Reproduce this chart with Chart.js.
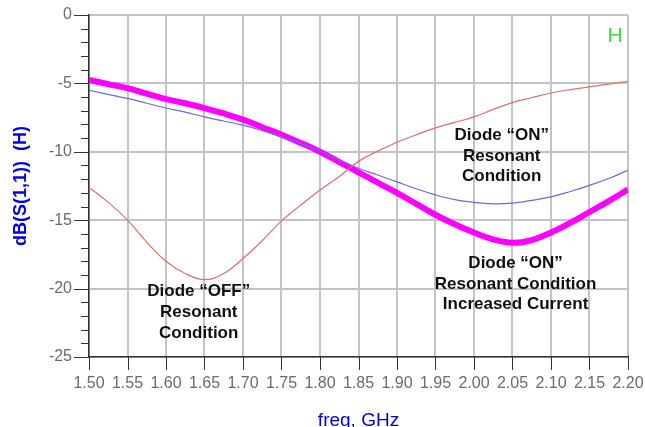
<!DOCTYPE html>
<html>
<head>
<meta charset="utf-8">
<script src="https://cdn.jsdelivr.net/npm/chart.js@4.4.1/dist/chart.umd.min.js"></script>
<style>
  html, body { margin: 0; padding: 0; background: #fff; }
  #wrap { width: 645px; height: 427px; }
</style>
</head>
<body>
<div id="wrap"><canvas id="s11Chart" width="645" height="427"></canvas></div>
<script>
// Data (freq in GHz, dB(S(1,1)))
const freqs = [1.50, 1.525, 1.55, 1.575, 1.60, 1.625, 1.65, 1.675, 1.70, 1.725, 1.75, 1.775, 1.80, 1.825, 1.85,
               1.875, 1.90, 1.925, 1.95, 1.975, 2.00, 2.025, 2.05, 2.075, 2.10, 2.125, 2.15, 2.175, 2.20];
const diodeOff = [-12.6, -13.7, -15.0, -16.6, -18.0, -18.9, -19.35, -18.9, -17.8, -16.5, -15.05, -13.9, -12.8, -11.8, -10.7,
                  -9.95, -9.3, -8.75, -8.25, -7.85, -7.45, -6.9, -6.4, -6.05, -5.7, -5.45, -5.25, -5.05, -4.85];
const diodeOn = [-5.5, -5.8, -6.1, -6.45, -6.8, -7.1, -7.45, -7.75, -8.05, -8.45, -8.9, -9.4, -9.95, -10.6, -11.2,
                 -11.7, -12.2, -12.7, -13.15, -13.5, -13.7, -13.8, -13.75, -13.55, -13.3, -12.9, -12.45, -11.95, -11.35];
const diodeOnHigh = [-4.75, -5.05, -5.35, -5.75, -6.15, -6.45, -6.8, -7.2, -7.65, -8.2, -8.75, -9.35, -10.0, -10.75, -11.5,
                     -12.25, -13.0, -13.8, -14.6, -15.3, -15.9, -16.4, -16.65, -16.45, -15.9, -15.2, -14.4, -13.6, -12.75];

const xTicks = [1.50, 1.55, 1.60, 1.65, 1.70, 1.75, 1.80, 1.85, 1.90, 1.95, 2.00, 2.05, 2.10, 2.15, 2.20];
const yTicks = [-25, -20, -15, -10, -5, 0];

// annotation text, anchored in data coordinates (first line baseline)
const notes = [
    { f: 1.6425, db: -20.55, lines: ['Diode \u201cOFF\u201d', 'Resonant', 'Condition'] },
    { f: 2.036, db: -9.14, lines: ['Diode \u201cON\u201d', 'Resonant', 'Condition'] },
    { f: 2.054, db: -18.5, lines: ['Diode \u201cON\u201d', 'Resonant Condition', 'Increased Current'] }
];

const FONT = "'Liberation Sans', Arial, sans-serif";

function pts(ys) {
    return freqs.map((f, i) => ({ x: f, y: ys[i] }));
}

// axis ticks, titles and notes
const decorations = {
    id: 'decorations',
    afterDraw(chart) {
        const { ctx, scales: { x, y }, chartArea } = chart;
        ctx.save();
        ctx.strokeStyle = '#333';
        ctx.lineWidth = 1;
        ctx.beginPath();
        for (let v = -25; v <= 0; v++) {
            const py = Math.round(y.getPixelForValue(v)) + 0.5;
            const len = v % 5 === 0 ? 15 : 8;
            ctx.moveTo(chartArea.left - len, py);
            ctx.lineTo(chartArea.left, py);
        }
        xTicks.forEach(v => {
            const px = Math.round(x.getPixelForValue(v)) + 0.5;
            ctx.moveTo(px, chartArea.bottom);
            ctx.lineTo(px, chartArea.bottom + 13);
        });
        ctx.stroke();

        // axis titles
        ctx.fillStyle = '#0000ee';
        ctx.textAlign = 'center';
        ctx.textBaseline = 'alphabetic';
        ctx.font = '19px ' + FONT;
        ctx.fillText('freq, GHz', (chartArea.left + chartArea.right) / 2, 426);

        ctx.save();
        ctx.translate(26, (chartArea.top + chartArea.bottom) / 2);
        ctx.rotate(-Math.PI / 2);
        ctx.font = 'bold 18px ' + FONT;
        ctx.fillText('dB(S(1,1))  (H)', 0, 0);
        ctx.restore();

        // corner marker
        ctx.fillStyle = '#3edc3e';
        ctx.font = '21px ' + FONT;
        ctx.textAlign = 'center';
        ctx.fillText('H', 615, 42);

        // notes
        ctx.fillStyle = '#111';
        ctx.font = 'bold 17px ' + FONT;
        notes.forEach(n => {
            const cx = x.getPixelForValue(n.f);
            const by = y.getPixelForValue(n.db);
            n.lines.forEach((t, i) => ctx.fillText(t, cx, by + i * 20.7));
        });
        ctx.restore();
    }
};

new Chart(document.getElementById('s11Chart').getContext('2d'), {
    type: 'line',
    data: {
        datasets: [
            {
                label: 'Diode OFF',
                data: pts(diodeOff),
                borderColor: '#d9726e',
                borderWidth: 1.2,
                pointRadius: 0,
                tension: 0.4,
                order: 1
            },
            {
                label: 'Diode ON',
                data: pts(diodeOn),
                borderColor: '#6a6ae2',
                borderWidth: 1.2,
                pointRadius: 0,
                tension: 0.4,
                order: 2
            },
            {
                label: 'Diode ON, increased current',
                data: pts(diodeOnHigh),
                borderColor: '#ff00ff',
                borderWidth: 6,
                pointRadius: 0,
                tension: 0.4,
                order: 3
            }
        ]
    },
    options: {
        responsive: false,
        animation: false,
        layout: { padding: { top: 15, right: 17, left: 0, bottom: 0 } },
        plugins: {
            legend: { display: false },
            tooltip: { enabled: false }
        },
        scales: {
            x: {
                type: 'linear',
                min: 1.5,
                max: 2.2,
                afterBuildTicks: s => { s.ticks = xTicks.map(v => ({ value: v })); },
                afterFit: s => { s.height = 70; s.paddingLeft = 0; s.paddingRight = 0; },
                grid: { color: '#c4c4c4', lineWidth: 2, drawTicks: false },
                border: { color: '#333', width: 1.5 },
                ticks: {
                    color: '#6b6b6b',
                    font: { family: FONT, size: 16 },
                    padding: 17,
                    maxRotation: 0,
                    autoSkip: false,
                    callback: v => Number(v).toFixed(2)
                }
            },
            y: {
                min: -25,
                max: 0,
                afterBuildTicks: s => { s.ticks = yTicks.map(v => ({ value: v })); },
                afterFit: s => { s.width = 89; s.paddingTop = 0; s.paddingBottom = 0; },
                grid: { color: '#c4c4c4', lineWidth: 2, drawTicks: false },
                border: { color: '#333', width: 1.5 },
                ticks: {
                    color: '#6b6b6b',
                    font: { family: FONT, size: 16 },
                    padding: 17,
                    callback: v => String(v)
                }
            }
        }
    },
    plugins: [decorations]
});
</script>
</body>
</html>
